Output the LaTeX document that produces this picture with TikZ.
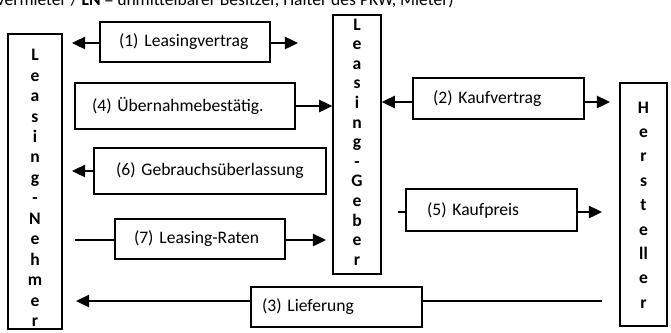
\documentclass[tikz,border=0pt]{standalone}
\usepackage{fontspec}
\setmainfont{Carlito}
\usetikzlibrary{arrows.meta}

\tikzset{
  vbox/.style={draw, line width=0.85pt, inner sep=0pt},
  vtxt/.style={align=center, inner sep=0pt, font=\bfseries},
  lbl/.style 2 args={draw, line width=0.85pt, align=left, inner ysep=0pt, inner xsep=#1, text width=#2},
  arr/.style={line width=1.1pt, -{Triangle[length=7.5pt,width=7pt]}},
  stub/.style={line width=1.1pt},
}

\begin{document}
\begin{tikzpicture}[x=0.02cm, y=-0.02cm]
    \useasboundingbox (0,0) rectangle (671,332);

    % header line, cut at the top
    \node[anchor=base east, inner sep=0pt] (head) at (454,5.5)
        {Vermieter / \textbf{LN} = unmittelbarer Besitzer, Halter des PKW, Mieter)};

    % the three parties
    \node[vbox, minimum width=1.08cm, minimum height=5.9cm] (nehmer) at (35,181.5) {};
    \node[vtxt, font=\bfseries\fontsize{10}{11.66}\selectfont] (nehmertxt) at (35,188)
        {L\\e\\a\\s\\i\\n\\g\\-\\N\\e\\h\\m\\e\\r};
    \node[vbox, minimum width=0.96cm, minimum height=5.18cm] (geber) at (357,144.5) {};
    \node[vtxt, font=\bfseries\fontsize{10}{11.15}\selectfont] (gebertxt) at (357,142)
        {L\\e\\a\\s\\i\\n\\g\\-\\G\\e\\b\\e\\r};
    \node[vbox, minimum width=0.94cm, minimum height=4.86cm] (hersteller) at (643.5,204.5) {};
    \node[vtxt, font=\bfseries\fontsize{10}{13.9}\selectfont] (herstellertxt) at (643.5,205)
        {H\\e\\r\\s\\t\\e\\ll\\e\\r};

    % the steps
    \node[lbl={0.38cm}{2.64cm}, minimum height=0.80cm] (l1) at (185,42) {(1) Leasingvertrag};
    \node[lbl={0.34cm}{3.72cm}, minimum height=0.92cm] (l4) at (185,106) {(4) Übernahmebestätig.};
    \node[lbl={0.40cm}{2.62cm}, minimum height=0.82cm] (l2) at (498.5,98.5) {(2) Kaufvertrag};
    \node[lbl={0.44cm}{3.76cm}, minimum height=0.92cm] (l6) at (210,171) {(6) Gebrauchsüberlassung};
    \node[lbl={0.42cm}{2.58cm}, minimum height=0.84cm] (l5) at (491.5,210) {(5) Kaufpreis};
    \node[lbl={0.38cm}{2.64cm}, minimum height=0.80cm] (l7) at (200,239) {(7) Leasing-Raten};
    \node[lbl={0.22cm}{2.98cm}, minimum height=0.80cm] (l3) at (336.5,307) {(3) Lieferung};

    % free ends
    \coordinate (t1l) at (72,43);
    \coordinate (t1r) at (298,43);
    \coordinate (t2r) at (610,102);
    \coordinate (t6) at (72,171);
    \coordinate (s5) at (398,212);
    \coordinate (t5) at (602,212);
    \coordinate (s7) at (75,240);
    \coordinate (t7) at (326,240);
    \coordinate (s3) at (602,301);
    \coordinate (t3) at (76,301);

    \draw[arr] (l1.west |- t1l) -- (t1l);
    \draw[arr] (l1.east |- t1r) -- (t1r);
    \draw[arr] (l4.east) -- (geber.west |- l4.east);
    \draw[arr] (l2.west |- t2r) -- (geber.east |- t2r);
    \draw[arr] (l2.east |- t2r) -- (t2r);
    \draw[arr] (l6.west |- t6) -- (t6);
    \draw[stub] (s5) -- (l5.west |- s5);
    \draw[arr] (l5.east |- t5) -- (t5);
    \draw[stub] (s7) -- (l7.west |- s7);
    \draw[arr] (l7.east |- t7) -- (t7);
    \draw[stub] (s3) -- (l3.east |- s3);
    \draw[arr] (l3.west |- t3) -- (t3);
\end{tikzpicture}
\end{document}
